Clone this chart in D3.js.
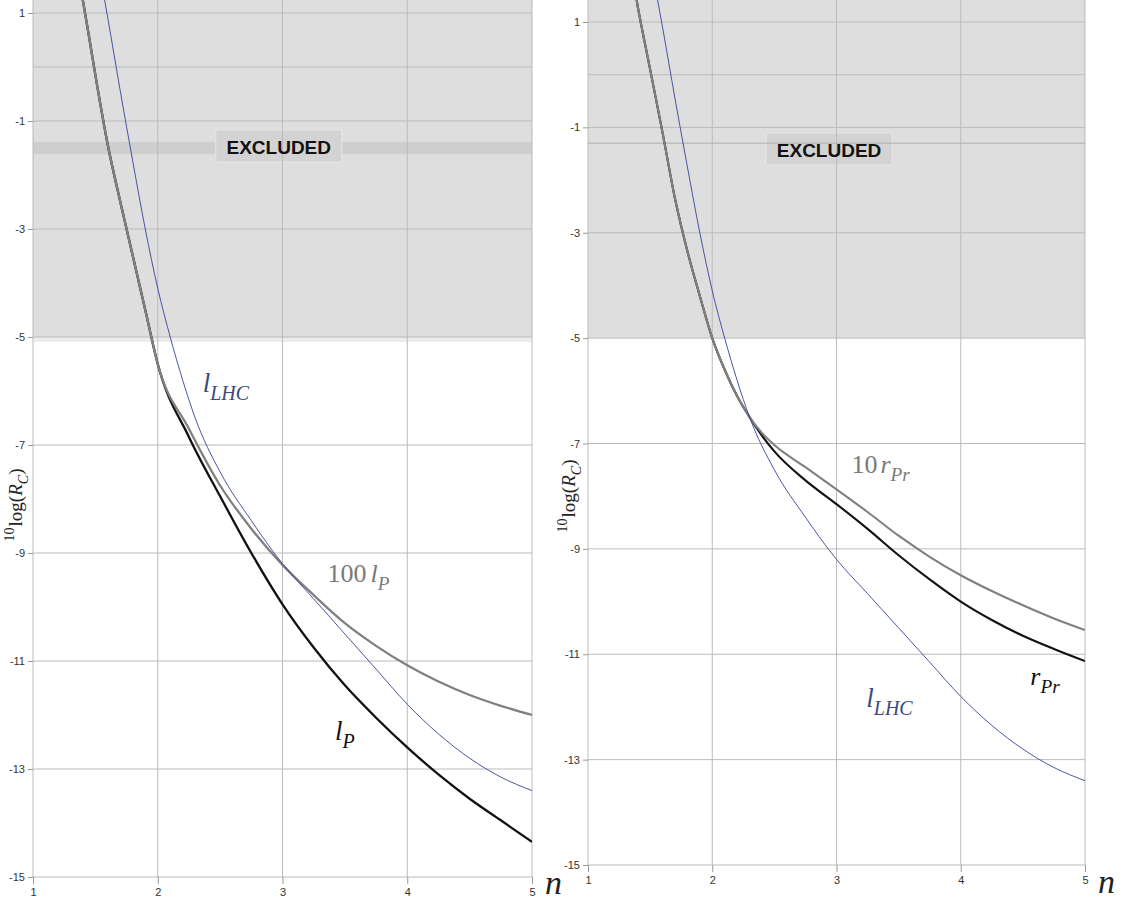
<!DOCTYPE html>
<html>
<head>
<meta charset="utf-8">
<script src="https://cdn.jsdelivr.net/npm/d3@7"></script>
<style>
  body { margin: 0; background: #fff; }
  svg { display: block; }
  .tick text { font-family: "Liberation Sans", Arial, sans-serif; font-size: 11px; fill: #333; }
  .tick line { stroke: #999; }
  .math { font-family: "Liberation Serif", "DejaVu Serif", serif; }
  .excl { font-family: "Liberation Sans", Arial, sans-serif; font-weight: bold; font-size: 19px; fill: #111; }
</style>
</head>
<body>
<svg id="chart" width="1130" height="904"></svg>
<script>
// tick values
var nTicks = [1, 2, 3, 4, 5];
var logTicks = [1, -1, -3, -5, -7, -9, -11, -13, -15];
var zeroLine = [0];           // extra grid line that only shows in the excluded zone
var excludedLimit = -5;       // everything above this is excluded

// curves, [n, 10log(R_C)]
// l_LHC is the same curve in both panels
var lhc = [[1.55, 1.55], [1.6, 0.9], [1.7, -0.45], [1.8, -1.75], [1.9, -3.0], [2.0, -4.1],
           [2.1, -5.0], [2.2, -5.8], [2.3, -6.5], [2.5, -7.5], [2.75, -8.4], [3.0, -9.2],
           [3.25, -9.85], [3.5, -10.5], [3.75, -11.15], [4.0, -11.8], [4.25, -12.35],
           [4.5, -12.8], [4.75, -13.15], [5.0, -13.4]];

// left panel: l_P and 100 l_P share the steep part
var lpSteep = [[1.38, 1.5], [1.45, 0.55], [1.5, -0.15], [1.6, -1.45], [1.7, -2.5],
               [1.8, -3.5], [1.9, -4.5], [2.0, -5.5]];
var lpTail = [[2.25, -6.85], [2.5, -7.95], [2.75, -9.0], [3.0, -9.95], [3.25, -10.75],
              [3.5, -11.45], [3.75, -12.05], [4.0, -12.6], [4.25, -13.1], [4.5, -13.55],
              [4.75, -13.95], [5.0, -14.35]];
var lp100Tail = [[2.25, -6.7], [2.5, -7.75], [2.75, -8.55], [3.0, -9.22], [3.25, -9.78],
                 [3.5, -10.3], [3.75, -10.72], [4.0, -11.08], [4.25, -11.38], [4.5, -11.63],
                 [4.75, -11.83], [5.0, -12.0]];

// right panel: r_Pr and 10 r_Pr share the steep part
var rprSteep = [[1.37, 1.7], [1.4, 1.3], [1.5, 0.1], [1.6, -1.1], [1.7, -2.35], [1.8, -3.35],
                [1.9, -4.2], [2.0, -5.0], [2.1, -5.6], [2.2, -6.1], [2.3, -6.5]];
var rprTail = [[2.4, -6.85], [2.5, -7.15], [2.75, -7.7], [3.0, -8.15], [3.25, -8.62],
               [3.5, -9.12], [3.75, -9.58], [4.0, -10.0], [4.25, -10.35], [4.5, -10.65],
               [4.75, -10.9], [5.0, -11.13]];
var rpr10Tail = [[2.4, -6.8], [2.5, -7.03], [2.75, -7.45], [3.0, -7.87], [3.25, -8.3],
                 [3.5, -8.75], [3.75, -9.15], [4.0, -9.5], [4.25, -9.8], [4.5, -10.07],
                 [4.75, -10.32], [5.0, -10.54]];

var BLUE = "#34449a", GRAY = "#808080", BLACK = "#111";

var panels = [
  {
    id: "L", left: 33, right: 532, top: 13, bottom: 877,
    band: { v: -1.5, h: 12 }, // wide darker band in the excluded zone
    boxAt: 2.97, boxY: 130,
    curves: [
      { data: lpSteep.concat(lpTail), color: BLACK, width: 2.3 },
      { data: lpSteep.concat(lp100Tail), color: GRAY, width: 2.3 },
      { data: lhc, color: BLUE, width: 0.9 }
    ],
    labels: [
      { n: 2.36, v: -6.02, color: "#3b4a7e", size: 27, parts: [{ t: "l", it: 1 }, { t: "LHC", it: 1, sub: 1 }] },
      { n: 3.36, v: -9.54, color: "#7a7a7a", size: 26, parts: [{ t: "100" }, { t: "l", it: 1, dx: 4 }, { t: "P", it: 1, sub: 1 }] },
      { n: 3.42, v: -12.46, color: "#111", size: 27, parts: [{ t: "l", it: 1 }, { t: "P", it: 1, sub: 1 }] }
    ],
    ylab: { x: 16, y: 505 }, nlab: { dx: 13, y: 894 }
  },
  {
    id: "R", left: 588, right: 1085, top: 22, bottom: 865,
    line: { v: -1.3 },
    boxAt: 2.94, boxY: 133,
    curves: [
      { data: rprSteep.concat(rprTail), color: BLACK, width: 2.1 },
      { data: rprSteep.concat(rpr10Tail), color: GRAY, width: 2.1 },
      { data: lhc, color: BLUE, width: 0.9 }
    ],
    labels: [
      { n: 3.12, v: -7.56, color: "#7a7a7a", size: 26, parts: [{ t: "10" }, { t: "r", it: 1, dx: 3 }, { t: "Pr", it: 1, sub: 1 }] },
      { n: 4.56, v: -11.58, color: "#111", size: 26, parts: [{ t: "r", it: 1 }, { t: "Pr", it: 1, sub: 1 }] },
      { n: 3.24, v: -12.0, color: "#3b4a7e", size: 27, parts: [{ t: "l", it: 1 }, { t: "LHC", it: 1, sub: 1 }] }
    ],
    ylab: { x: 569, y: 496 }, nlab: { dx: 13, y: 893 }
  }
];

var svg = d3.select("#chart");

// text with italic / subscript / superscript pieces
function mathText(g, x, y, parts, color, size) {
  var t = g.append("text").attr("class", "math")
    .attr("x", x).attr("y", y)
    .attr("fill", color)
    .style("font-size", size + "px");
  var prev = 0;
  parts.forEach(function(p) {
    var shift = p.sub ? size * 0.3 : (p.sup ? -size * 0.4 : 0);
    var s = t.append("tspan").text(p.t)
      .style("font-style", p.it ? "italic" : "normal")
      .style("font-size", (p.sub || p.sup ? size * 0.74 : size) + "px")
      .attr("dy", shift - prev);
    if (p.dx) s.attr("dx", p.dx);
    prev = shift;
  });
  return t;
}

panels.forEach(function(p) {
  var x = d3.scaleLinear().domain([1, 5]).range([p.left, p.right]);
  var y = d3.scaleLinear().domain([-15, 1]).range([p.bottom, p.top]);
  var g = svg.append("g");

  // excluded zone
  g.append("rect")
    .attr("x", x(1)).attr("y", 0)
    .attr("width", x(5) - x(1)).attr("height", y(excludedLimit))
    .attr("fill", "#dedede");
  if (p.band) {
    g.append("rect")
      .attr("x", x(1)).attr("y", y(p.band.v) - p.band.h / 2)
      .attr("width", x(5) - x(1)).attr("height", p.band.h)
      .attr("fill", "#cecece");
    g.append("rect")
      .attr("x", x(1)).attr("y", y(excludedLimit))
      .attr("width", x(5) - x(1)).attr("height", 5)
      .attr("fill", "#ececec");
  }

  // EXCLUDED tag
  var bx = x(p.boxAt);
  g.append("rect")
    .attr("x", bx - 63).attr("y", p.boxY)
    .attr("width", 126).attr("height", 32)
    .attr("fill", "#d3d3d3").attr("stroke", "#e6e6e6");

  // grid
  var grid = g.append("g").attr("stroke", "#bbb").attr("stroke-width", 1);
  grid.selectAll(".v").data(nTicks).enter().append("line")
    .attr("x1", function(d) { return x(d); }).attr("x2", function(d) { return x(d); })
    .attr("y1", 0).attr("y2", y(-15));
  grid.selectAll(".h").data(logTicks).enter().append("line")
    .attr("x1", x(1)).attr("x2", x(5))
    .attr("y1", function(d) { return y(d); }).attr("y2", function(d) { return y(d); });
  grid.selectAll(".z").data(zeroLine).enter().append("line")
    .attr("x1", x(1)).attr("x2", x(5))
    .attr("y1", function(d) { return y(d); }).attr("y2", function(d) { return y(d); });
  if (p.line) {
    grid.append("line")
      .attr("x1", x(1)).attr("x2", x(5))
      .attr("y1", y(p.line.v)).attr("y2", y(p.line.v))
      .attr("stroke", "#b0b0b0");
  }

  g.append("text").attr("class", "excl")
    .attr("x", bx).attr("y", p.boxY + 24)
    .attr("text-anchor", "middle")
    .text("EXCLUDED");

  // axes
  var ya = g.append("g").attr("transform", "translate(" + x(1) + ",0)")
    .call(d3.axisLeft(y).tickValues(logTicks).tickSize(5).tickPadding(3)
      .tickFormat(function(d) { return String(d); }));
  ya.select(".domain").remove();
  var xa = g.append("g").attr("transform", "translate(0," + y(-15) + ")")
    .call(d3.axisBottom(x).tickValues(nTicks).tickSize(7).tickPadding(4)
      .tickFormat(function(d) { return String(d); }));
  xa.select(".domain").remove();

  // curves
  var clipId = "clip" + p.id;
  g.append("clipPath").attr("id", clipId).append("rect")
    .attr("x", x(1)).attr("y", 0)
    .attr("width", x(5) - x(1)).attr("height", y(-15));
  var line = d3.line()
    .x(function(d) { return x(d[0]); })
    .y(function(d) { return y(d[1]); })
    .curve(d3.curveMonotoneX);
  g.append("g").attr("clip-path", "url(#" + clipId + ")")
    .selectAll("path").data(p.curves).enter().append("path")
    .attr("d", function(d) { return line(d.data); })
    .attr("fill", "none")
    .attr("stroke", function(d) { return d.color; })
    .attr("stroke-width", function(d) { return d.width; })
    .attr("stroke-linejoin", "round");

  // curve labels
  p.labels.forEach(function(l) {
    mathText(g, x(l.n), y(l.v), l.parts, l.color, l.size);
  });

  // axis titles
  var yl = g.append("g").attr("transform", "translate(" + p.ylab.x + "," + p.ylab.y + ") rotate(-90)");
  mathText(yl, 0, 6, [{ t: "10", sup: 1 }, { t: "log(", dx: 1 }, { t: "R", it: 1 }, { t: "C", it: 1, sub: 1 }, { t: ")" }], "#222", 19)
    .attr("text-anchor", "middle");
  mathText(g, x(5) + p.nlab.dx, p.nlab.y, [{ t: "n", it: 1 }], "#222", 34);
});
</script>
</body>
</html>
